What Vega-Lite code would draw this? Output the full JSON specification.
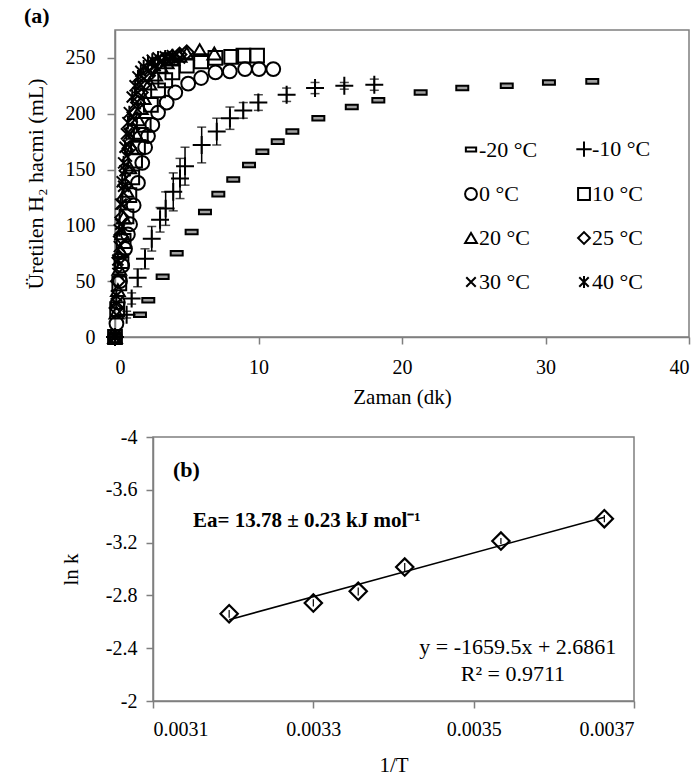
{
  "$schema": "https://vega.github.io/schema/vega-lite/v6.json",
  "background": "white",
  "padding": {"left": 22, "top": 4, "right": 0, "bottom": 0},
  "spacing": 18,
  "config": {
    "font": "Liberation Serif",
    "view": {"stroke": "#7f7f7f", "strokeWidth": 1.5},
    "style": {
      "guide-label": {"font": "Liberation Serif", "fill": "black"},
      "guide-title": {"font": "Liberation Serif", "fill": "black"}
    },
    "axis": {
      "grid": false,
      "domainColor": "#7f7f7f",
      "tickColor": "#7f7f7f",
      "domainWidth": 1.5,
      "tickWidth": 1.5,
      "tickSize": 7,
      "labelColor": "black",
      "titleColor": "black",
      "labelFont": "Liberation Serif",
      "titleFont": "Liberation Serif",
      "titleFontWeight": "normal",
      "labelFontSize": 20,
      "titleFontSize": 21
    },
    "legend": {"labelFont": "Liberation Serif"}
  },
  "datasets": {
    "kin": [
      {"s": "-20 °C", "t": 0, "v": 0}, {"s": "-20 °C", "t": 1.74, "v": 20}, {"s": "-20 °C", "t": 2.32, "v": 33}, {"s": "-20 °C", "t": 3.32, "v": 54}, {"s": "-20 °C", "t": 4.3, "v": 75}, {"s": "-20 °C", "t": 5.34, "v": 94}, {"s": "-20 °C", "t": 6.27, "v": 112}, {"s": "-20 °C", "t": 7.2, "v": 128}, {"s": "-20 °C", "t": 8.24, "v": 141}, {"s": "-20 °C", "t": 9.34, "v": 154}, {"s": "-20 °C", "t": 10.27, "v": 166}, {"s": "-20 °C", "t": 11.34, "v": 175}, {"s": "-20 °C", "t": 12.36, "v": 184}, {"s": "-20 °C", "t": 14.17, "v": 196}, {"s": "-20 °C", "t": 16.5, "v": 206}, {"s": "-20 °C", "t": 18.35, "v": 212}, {"s": "-20 °C", "t": 21.3, "v": 219}, {"s": "-20 °C", "t": 24.2, "v": 223}, {"s": "-20 °C", "t": 27.3, "v": 225}, {"s": "-20 °C", "t": 30.24, "v": 228}, {"s": "-20 °C", "t": 33.26, "v": 229},
      {"s": "-10 °C", "t": 0, "v": 0, "lo": 0, "hi": 0}, {"s": "-10 °C", "t": 0.81, "v": 20, "lo": 17, "hi": 23}, {"s": "-10 °C", "t": 1.16, "v": 34.5, "lo": 29.5, "hi": 39.5}, {"s": "-10 °C", "t": 1.58, "v": 53, "lo": 45, "hi": 61}, {"s": "-10 °C", "t": 2.09, "v": 70, "lo": 61, "hi": 79}, {"s": "-10 °C", "t": 2.56, "v": 88, "lo": 77, "hi": 99}, {"s": "-10 °C", "t": 3.14, "v": 105, "lo": 94, "hi": 116}, {"s": "-10 °C", "t": 3.53, "v": 115, "lo": 100, "hi": 130}, {"s": "-10 °C", "t": 4.06, "v": 130, "lo": 113, "hi": 147}, {"s": "-10 °C", "t": 4.53, "v": 142, "lo": 124, "hi": 160}, {"s": "-10 °C", "t": 4.88, "v": 153, "lo": 136, "hi": 170}, {"s": "-10 °C", "t": 6.04, "v": 172, "lo": 156, "hi": 188}, {"s": "-10 °C", "t": 7.09, "v": 184, "lo": 172, "hi": 196}, {"s": "-10 °C", "t": 8.01, "v": 196, "lo": 186, "hi": 206}, {"s": "-10 °C", "t": 8.94, "v": 203, "lo": 196, "hi": 210}, {"s": "-10 °C", "t": 9.99, "v": 210, "lo": 203, "hi": 217}, {"s": "-10 °C", "t": 11.96, "v": 217, "lo": 211, "hi": 223}, {"s": "-10 °C", "t": 13.94, "v": 223, "lo": 218, "hi": 228}, {"s": "-10 °C", "t": 15.98, "v": 225, "lo": 222, "hi": 228}, {"s": "-10 °C", "t": 18.07, "v": 226, "lo": 221, "hi": 231},
      {"s": "0 °C", "t": 0, "v": 0}, {"s": "0 °C", "t": 0.1, "v": 12}, {"s": "0 °C", "t": 0.2, "v": 31}, {"s": "0 °C", "t": 0.35, "v": 50}, {"s": "0 °C", "t": 0.5, "v": 64}, {"s": "0 °C", "t": 0.7, "v": 79}, {"s": "0 °C", "t": 0.9, "v": 92}, {"s": "0 °C", "t": 1.05, "v": 101}, {"s": "0 °C", "t": 1.3, "v": 118}, {"s": "0 °C", "t": 1.6, "v": 138}, {"s": "0 °C", "t": 1.9, "v": 156}, {"s": "0 °C", "t": 2.1, "v": 170}, {"s": "0 °C", "t": 2.3, "v": 180}, {"s": "0 °C", "t": 2.6, "v": 190}, {"s": "0 °C", "t": 3.0, "v": 201}, {"s": "0 °C", "t": 3.6, "v": 210}, {"s": "0 °C", "t": 4.2, "v": 219}, {"s": "0 °C", "t": 5.1, "v": 227}, {"s": "0 °C", "t": 6.0, "v": 232}, {"s": "0 °C", "t": 7.0, "v": 237}, {"s": "0 °C", "t": 8.0, "v": 238}, {"s": "0 °C", "t": 9.06, "v": 240}, {"s": "0 °C", "t": 10.03, "v": 240}, {"s": "0 °C", "t": 11.03, "v": 240},
      {"s": "10 °C", "t": 0, "v": 0}, {"s": "10 °C", "t": 0.15, "v": 25}, {"s": "10 °C", "t": 0.3, "v": 48}, {"s": "10 °C", "t": 0.45, "v": 68}, {"s": "10 °C", "t": 0.6, "v": 86}, {"s": "10 °C", "t": 0.8, "v": 108}, {"s": "10 °C", "t": 1.0, "v": 127}, {"s": "10 °C", "t": 1.2, "v": 143}, {"s": "10 °C", "t": 1.4, "v": 158}, {"s": "10 °C", "t": 1.6, "v": 170}, {"s": "10 °C", "t": 1.8, "v": 181}, {"s": "10 °C", "t": 2.0, "v": 190}, {"s": "10 °C", "t": 2.5, "v": 208}, {"s": "10 °C", "t": 3.0, "v": 221}, {"s": "10 °C", "t": 3.5, "v": 230}, {"s": "10 °C", "t": 4.0, "v": 237}, {"s": "10 °C", "t": 5.0, "v": 243}, {"s": "10 °C", "t": 6.0, "v": 247}, {"s": "10 °C", "t": 7.0, "v": 250}, {"s": "10 °C", "t": 8.1, "v": 251}, {"s": "10 °C", "t": 8.95, "v": 252}, {"s": "10 °C", "t": 9.9, "v": 252},
      {"s": "20 °C", "t": 0, "v": 0}, {"s": "20 °C", "t": 0.1, "v": 22}, {"s": "20 °C", "t": 0.2, "v": 42}, {"s": "20 °C", "t": 0.3, "v": 61}, {"s": "20 °C", "t": 0.4, "v": 77}, {"s": "20 °C", "t": 0.5, "v": 93}, {"s": "20 °C", "t": 0.6, "v": 107}, {"s": "20 °C", "t": 0.8, "v": 131}, {"s": "20 °C", "t": 1.0, "v": 152}, {"s": "20 °C", "t": 1.2, "v": 169}, {"s": "20 °C", "t": 1.4, "v": 183}, {"s": "20 °C", "t": 1.6, "v": 195}, {"s": "20 °C", "t": 1.8, "v": 205}, {"s": "20 °C", "t": 2.0, "v": 214}, {"s": "20 °C", "t": 2.4, "v": 227}, {"s": "20 °C", "t": 2.8, "v": 235}, {"s": "20 °C", "t": 3.2, "v": 242}, {"s": "20 °C", "t": 3.6, "v": 246}, {"s": "20 °C", "t": 4.0, "v": 249}, {"s": "20 °C", "t": 4.5, "v": 252}, {"s": "20 °C", "t": 5.0, "v": 254}, {"s": "20 °C", "t": 5.9, "v": 257}, {"s": "20 °C", "t": 6.92, "v": 254},
      {"s": "25 °C", "t": 0, "v": 0}, {"s": "25 °C", "t": 0.1, "v": 26}, {"s": "25 °C", "t": 0.2, "v": 50}, {"s": "25 °C", "t": 0.3, "v": 71}, {"s": "25 °C", "t": 0.4, "v": 90}, {"s": "25 °C", "t": 0.5, "v": 107}, {"s": "25 °C", "t": 0.6, "v": 123}, {"s": "25 °C", "t": 0.7, "v": 136}, {"s": "25 °C", "t": 0.8, "v": 149}, {"s": "25 °C", "t": 1.0, "v": 169}, {"s": "25 °C", "t": 1.2, "v": 186}, {"s": "25 °C", "t": 1.4, "v": 200}, {"s": "25 °C", "t": 1.6, "v": 210}, {"s": "25 °C", "t": 1.8, "v": 219}, {"s": "25 °C", "t": 2.0, "v": 226}, {"s": "25 °C", "t": 2.3, "v": 234}, {"s": "25 °C", "t": 2.6, "v": 240}, {"s": "25 °C", "t": 3.0, "v": 245}, {"s": "25 °C", "t": 3.5, "v": 249}, {"s": "25 °C", "t": 4.0, "v": 251}, {"s": "25 °C", "t": 4.5, "v": 253}, {"s": "25 °C", "t": 5.0, "v": 255},
      {"s": "30 °C", "t": 0, "v": 0}, {"s": "30 °C", "t": 0.1, "v": 30}, {"s": "30 °C", "t": 0.2, "v": 57}, {"s": "30 °C", "t": 0.3, "v": 81}, {"s": "30 °C", "t": 0.4, "v": 101}, {"s": "30 °C", "t": 0.5, "v": 119}, {"s": "30 °C", "t": 0.6, "v": 135}, {"s": "30 °C", "t": 0.7, "v": 149}, {"s": "30 °C", "t": 0.8, "v": 162}, {"s": "30 °C", "t": 0.9, "v": 172}, {"s": "30 °C", "t": 1.0, "v": 182}, {"s": "30 °C", "t": 1.2, "v": 197}, {"s": "30 °C", "t": 1.4, "v": 209}, {"s": "30 °C", "t": 1.6, "v": 219}, {"s": "30 °C", "t": 1.8, "v": 226}, {"s": "30 °C", "t": 2.0, "v": 231}, {"s": "30 °C", "t": 2.4, "v": 239}, {"s": "30 °C", "t": 2.8, "v": 243}, {"s": "30 °C", "t": 3.2, "v": 246}, {"s": "30 °C", "t": 3.6, "v": 248}, {"s": "30 °C", "t": 4.0, "v": 250}, {"s": "30 °C", "t": 4.5, "v": 250},
      {"s": "40 °C", "t": 0, "v": 0}, {"s": "40 °C", "t": 0.1, "v": 37}, {"s": "40 °C", "t": 0.2, "v": 69}, {"s": "40 °C", "t": 0.3, "v": 96}, {"s": "40 °C", "t": 0.4, "v": 119}, {"s": "40 °C", "t": 0.5, "v": 139}, {"s": "40 °C", "t": 0.6, "v": 156}, {"s": "40 °C", "t": 0.7, "v": 170}, {"s": "40 °C", "t": 0.8, "v": 182}, {"s": "40 °C", "t": 0.9, "v": 192}, {"s": "40 °C", "t": 1.0, "v": 201}, {"s": "40 °C", "t": 1.2, "v": 215}, {"s": "40 °C", "t": 1.4, "v": 225}, {"s": "40 °C", "t": 1.6, "v": 233}, {"s": "40 °C", "t": 1.8, "v": 238}, {"s": "40 °C", "t": 2.0, "v": 242}, {"s": "40 °C", "t": 2.3, "v": 246}, {"s": "40 °C", "t": 2.6, "v": 248}, {"s": "40 °C", "t": 3.0, "v": 250}, {"s": "40 °C", "t": 3.5, "v": 251}, {"s": "40 °C", "t": 4.0, "v": 252}
    ],
    "arr": [
      {"x": 0.003195, "y": -2.661, "lo": -2.69, "hi": -2.63},
      {"x": 0.0033, "y": -2.742, "lo": -2.77, "hi": -2.715},
      {"x": 0.003356, "y": -2.831, "lo": -2.86, "hi": -2.80},
      {"x": 0.003414, "y": -3.015, "lo": -3.045, "hi": -2.985},
      {"x": 0.003534, "y": -3.212, "lo": -3.235, "hi": -3.19},
      {"x": 0.003663, "y": -3.381, "lo": -3.41, "hi": -3.355}
    ],
    "trend": [
      {"x": 0.003195, "y": -2.616},
      {"x": 0.003663, "y": -3.3926}
    ]
  },
  "vconcat": [
    {
      "spacing": 0,
      "hconcat": [
        {
          "width": 1,
          "height": 20,
          "view": {"stroke": null},
          "data": {"values": []},
          "mark": "point"
        },
        {
          "width": 574,
          "height": 307,
          "title": {"text": "(a)", "anchor": "start", "frame": "bounds", "fontSize": 22, "fontWeight": "bold", "font": "Liberation Serif", "offset": 2, "color": "black"},
          "data": {"name": "kin"},
          "layer": [
            {
              "transform": [{"filter": "datum.s === '-10 °C'"}],
              "mark": {"type": "rule", "color": "black", "strokeWidth": 1.5},
              "encoding": {
                "x": {"field": "t", "type": "quantitative", "title": "Zaman (dk)"},
                "y": {"field": "lo", "type": "quantitative", "title": "Üretilen H₂ hacmi (mL)"},
                "y2": {"field": "hi"}
              }
            },
            {
              "transform": [{"filter": "datum.s === '-10 °C'"}],
              "mark": {"type": "tick", "orient": "horizontal", "color": "black", "size": 9, "thickness": 1.5},
              "encoding": {
                "x": {"field": "t", "type": "quantitative", "title": "Zaman (dk)"},
                "y": {"field": "lo", "type": "quantitative", "title": "Üretilen H₂ hacmi (mL)"}
              }
            },
            {
              "transform": [{"filter": "datum.s === '-10 °C'"}],
              "mark": {"type": "tick", "orient": "horizontal", "color": "black", "size": 9, "thickness": 1.5},
              "encoding": {
                "x": {"field": "t", "type": "quantitative", "title": "Zaman (dk)"},
                "y": {"field": "hi", "type": "quantitative", "title": "Üretilen H₂ hacmi (mL)"}
              }
            },
            {
              "mark": {"type": "point", "filled": false, "strokeWidth": 2, "clip": false, "opacity": 1, "size": 190},
              "encoding": {
                "x": {"field": "t", "type": "quantitative", "title": "Zaman (dk)",
                      "scale": {"domain": [0, 40], "nice": false, "zero": false},
                      "axis": {"values": [0, 10, 20, 30, 40], "labelPadding": 13, "titlePadding": 9, "labelFont": "Liberation Serif", "titleFont": "Liberation Serif", "titleFontSize": 21}},
                "y": {"field": "v", "type": "quantitative", "title": "Üretilen H₂ hacmi (mL)",
                      "scale": {"domain": [0, 275], "nice": false, "zero": false},
                      "axis": {"values": [0, 50, 100, 150, 200, 250], "tickSize": 8, "labelPadding": 12, "titlePadding": 18, "titleFontSize": 22, "labelFont": "Liberation Serif", "titleFont": "Liberation Serif"}},
                "color": {"value": "black"},
                "fill": {"condition": {"test": "datum.s === '-20 °C'", "value": "#a0a0a0"}, "value": "transparent"},
                "shape": {
                  "field": "s", "type": "nominal",
                  "scale": {
                    "domain": ["-20 °C", "-10 °C", "0 °C", "10 °C", "20 °C", "25 °C", "30 °C", "40 °C"],
                    "range": ["M-0.87,-0.33H0.87V0.33H-0.87Z", "M-1.3,0H1.3M0,-1.3V1.3", "circle", "square", "triangle-up", "diamond", "M-0.8,-0.8L0.8,0.8M-0.8,0.8L0.8,-0.8", "M-0.8,-0.8L0.8,0.8M-0.8,0.8L0.8,-0.8M0,-1V1"]
                  },
                  "legend": {
                    "title": null, "orient": "none", "legendX": 438, "legendY": 108, "columns": 2, "direction": "horizontal",
                    "labelFontSize": 22, "labelFont": "Liberation Serif", "labelColor": "black",
                    "symbolSize": 140, "symbolStrokeWidth": 2, "symbolStrokeColor": "black", "symbolFillColor": "transparent",
                    "rowPadding": 22, "columnPadding": 34, "labelOffset": -3, "padding": 0
                  }
                }
              }
            }
          ]
        }
      ]
    },
    {
      "spacing": 0,
      "hconcat": [
        {
          "width": 37,
          "height": 20,
          "view": {"stroke": null},
          "data": {"values": []},
          "mark": "point"
        },
        {
          "width": 481,
          "height": 264,
          "layer": [
            {
              "data": {"name": "trend"},
              "mark": {"type": "line", "color": "black", "strokeWidth": 1.5},
              "encoding": {
                "x": {"field": "x", "type": "quantitative", "title": "1/T",
                      "scale": {"domain": [0.0031, 0.0037], "nice": false, "zero": false},
                      "axis": {"values": [0.0031, 0.0033, 0.0035, 0.0037], "labelExpr": "'' + datum.value", "labelPadding": 11, "titlePadding": 15, "labelFont": "Liberation Serif", "titleFont": "Liberation Serif"}},
                "y": {"field": "y", "type": "quantitative", "title": "ln k",
                      "scale": {"domain": [-4, -2], "nice": false, "zero": false, "reverse": true},
                      "axis": {"values": [-4, -3.6, -3.2, -2.8, -2.4, -2], "labelExpr": "'' + datum.value", "labelPadding": 9, "titlePadding": 24, "labelFont": "Liberation Serif", "titleFont": "Liberation Serif"}}
              }
            },
            {
              "data": {"name": "arr"},
              "mark": {"type": "rule", "color": "black", "strokeWidth": 1.2},
              "encoding": {
                "x": {"field": "x", "type": "quantitative", "title": "1/T"},
                "y": {"field": "lo", "type": "quantitative", "title": "ln k"},
                "y2": {"field": "hi"}
              }
            },
            {
              "data": {"name": "arr"},
              "mark": {"type": "point", "shape": "diamond", "filled": false, "color": "black", "strokeWidth": 2.2, "size": 300, "opacity": 1},
              "encoding": {
                "x": {"field": "x", "type": "quantitative", "title": "1/T"},
                "y": {"field": "y", "type": "quantitative", "title": "ln k"}
              }
            },
            {
              "data": {"values": [{"label": "(b)"}]},
              "mark": {"type": "text", "align": "left", "baseline": "middle", "fontSize": 22, "fontWeight": "bold", "font": "Liberation Serif", "color": "black"},
              "encoding": {
                "x": {"datum": 0.003125},
                "y": {"datum": -3.75},
                "text": {"field": "label"}
              }
            },
            {
              "data": {"values": [{"label": "Ea= 13.78 ± 0.23 kJ mol⁻¹"}]},
              "mark": {"type": "text", "align": "left", "baseline": "middle", "fontSize": 21, "fontWeight": "bold", "font": "Liberation Serif", "color": "black"},
              "encoding": {
                "x": {"datum": 0.00315},
                "y": {"datum": -3.36},
                "text": {"field": "label"}
              }
            },
            {
              "data": {"values": [{"label": "y = -1659.5x + 2.6861"}]},
              "mark": {"type": "text", "align": "right", "baseline": "middle", "fontSize": 22, "font": "Liberation Serif", "color": "black"},
              "encoding": {
                "x": {"datum": 0.003678},
                "y": {"datum": -2.41},
                "text": {"field": "label"}
              }
            },
            {
              "data": {"values": [{"label": "R² = 0.9711"}]},
              "mark": {"type": "text", "align": "center", "baseline": "middle", "fontSize": 22, "font": "Liberation Serif", "color": "black"},
              "encoding": {
                "x": {"datum": 0.003549},
                "y": {"datum": -2.205},
                "text": {"field": "label"}
              }
            }
          ]
        }
      ]
    }
  ]
}
